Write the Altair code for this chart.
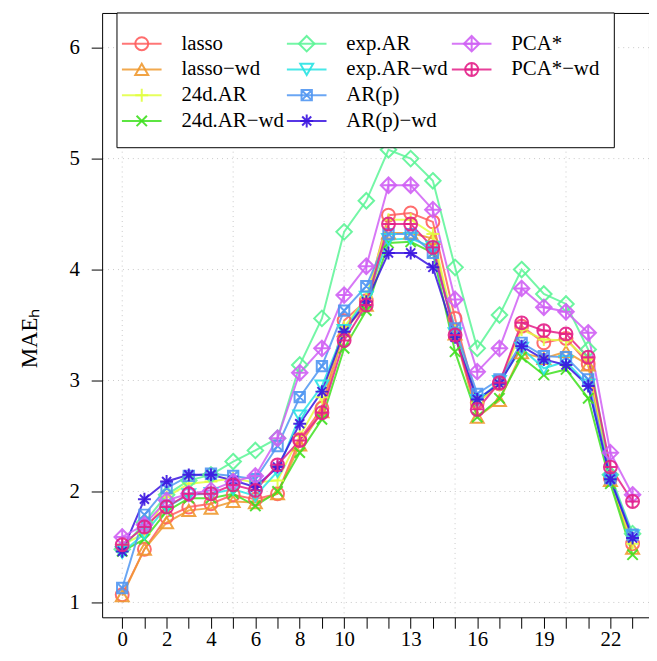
import json
import altair as alt
import pandas as pd

# ---------------- data ----------------
hours = list(range(24))
label_hours = [0, 2, 4, 6, 8, 10, 13, 16, 19, 22]
y_ticks = [1, 2, 3, 4, 5, 6]
grid_x_vals = [0, 5, 10, 15, 20]
grid_y_vals = [1, 2, 3, 4, 5, 6]

series_names = ["lasso", "lasso\u2212wd", "24d.AR", "24d.AR\u2212wd",
                "exp.AR", "exp.AR\u2212wd", "AR(p)", "AR(p)\u2212wd",
                "PCA*", "PCA*\u2212wd"]

lasso     = [1.07, 1.48, 1.77, 1.86, 1.89, 1.97, 1.93, 1.98, 2.47, 2.75, 3.54, 3.72,
             4.49, 4.51, 4.43, 3.56, 2.80, 2.97, 3.49, 3.34, 3.38, 3.15, 2.12, 1.53]
lasso_wd  = [1.06, 1.48, 1.72, 1.83, 1.85, 1.91, 1.90, 1.98, 2.42, 2.72, 3.45, 3.68,
             4.33, 4.33, 4.28, 3.42, 2.67, 2.82, 3.25, 3.20, 3.26, 3.14, 2.10, 1.49]
ar24      = [1.52, 1.62, 1.95, 2.07, 2.09, 2.12, 2.08, 2.10, 2.50, 2.85, 3.48, 3.75,
             4.45, 4.45, 4.32, 3.45, 2.80, 2.96, 3.46, 3.37, 3.36, 3.19, 2.11, 1.53]
ar24_wd   = [1.46, 1.57, 1.82, 1.94, 1.94, 1.98, 1.87, 2.00, 2.35, 2.65, 3.29, 3.63,
             4.24, 4.25, 4.15, 3.26, 2.67, 2.84, 3.21, 3.05, 3.10, 2.84, 2.07, 1.43]
exp_ar    = [1.48, 1.72, 1.97, 2.10, 2.15, 2.27, 2.37, 2.48, 3.14, 3.56, 4.34, 4.62,
             5.08, 5.00, 4.80, 4.02, 3.29, 3.59, 4.00, 3.78, 3.69, 3.28, 2.15, 1.62]
exp_ar_wd = [1.45, 1.62, 1.86, 1.97, 1.98, 2.02, 1.96, 2.18, 2.68, 2.95, 3.45, 3.75,
             4.27, 4.28, 4.20, 3.42, 2.82, 2.99, 3.29, 3.11, 3.17, 2.96, 2.10, 1.60]
arp       = [1.13, 1.79, 2.03, 2.14, 2.16, 2.14, 2.11, 2.41, 2.85, 3.13, 3.63, 3.85,
             4.32, 4.32, 4.15, 3.47, 2.88, 3.01, 3.34, 3.22, 3.21, 3.01, 2.12, 1.61]
arp_wd    = [1.46, 1.93, 2.09, 2.15, 2.15, 2.10, 2.04, 2.22, 2.61, 2.90, 3.44, 3.71,
             4.15, 4.15, 4.02, 3.39, 2.83, 2.97, 3.31, 3.19, 3.14, 2.95, 2.11, 1.58]
pca       = [1.59, 1.70, 1.92, 1.98, 2.01, 2.09, 2.14, 2.48, 3.07, 3.29, 3.77, 4.03,
             4.76, 4.76, 4.54, 3.73, 3.08, 3.29, 3.83, 3.66, 3.62, 3.43, 2.35, 1.97]
pca_wd    = [1.52, 1.68, 1.86, 1.98, 1.98, 2.06, 2.01, 2.24, 2.46, 2.71, 3.36, 3.68,
             4.41, 4.41, 4.20, 3.41, 2.74, 2.98, 3.52, 3.45, 3.42, 3.21, 2.22, 1.91]

series_values = [lasso, lasso_wd, ar24, ar24_wd, exp_ar, exp_ar_wd,
                 arp, arp_wd, pca, pca_wd]

colors = ["#FF5E5E", "#F09A30", "#E2FF40", "#40E020", "#5CF596",
          "#28E4E4", "#5096F2", "#3A14E0", "#D060F5", "#E41E88"]

shapes = [
    "circle",
    "triangle-up",
    "M-1,0L1,0M0,-1L0,1",
    "M-0.8,-0.8L0.8,0.8M-0.8,0.8L0.8,-0.8",
    "M0,-1.2L1.2,0L0,1.2L-1.2,0Z",
    "triangle-down",
    "M-0.8,-0.8L0.8,-0.8L0.8,0.8L-0.8,0.8ZM-0.8,-0.8L0.8,0.8M-0.8,0.8L0.8,-0.8",
    "M-1,0L1,0M0,-1L0,1M-0.7,-0.7L0.7,0.7M-0.7,0.7L0.7,-0.7",
    "M0,-1.2L1.2,0L0,1.2L-1.2,0ZM-1.2,0L1.2,0M0,-1.2L0,1.2",
    "M-1,0A1,1,0,1,1,1,0A1,1,0,1,1,-1,0ZM-1,0L1,0M0,-1L0,1",
]

# ---------------- tables ----------------
rows = []
for name, vals in zip(series_names, series_values):
    for h, v in zip(hours, vals):
        rows.append({"hour": h, "mae": v, "series": name})
df = pd.DataFrame(rows)

gx_df = pd.DataFrame({"hour": grid_x_vals})
gy_df = pd.DataFrame({"mae": grid_y_vals})

leg = pd.DataFrame({"series": series_names})
leg["col"] = [i // 4 for i in range(len(series_names))]
leg["row"] = [i % 4 for i in range(len(series_names))]
leg["x1"] = 20 + 166.5 * leg["col"]
leg["x2"] = leg["x1"] + 40
leg["xm"] = leg["x1"] + 20
leg["xt"] = leg["x1"] + 60
leg["ly"] = 31 + 26 * leg["row"]

FONT = "Liberation Serif"

x_scale = alt.Scale(domain=[-0.906, 23.74], nice=False, zero=False)
y_scale = alt.Scale(domain=[0.866, 6.3125], nice=False, zero=False)
color_scale = alt.Scale(domain=series_names, range=colors)
shape_scale = alt.Scale(domain=series_names, range=shapes)

label_expr = ("indexof(" + json.dumps(label_hours) +
              ", datum.value) >= 0 ? datum.label : ''")

x_axis = alt.Axis(values=hours, labelExpr=label_expr, title=None, grid=False,
                  domain=False, tickSize=11, tickColor="black", tickWidth=1,
                  labelFont=FONT, labelFontSize=21, labelColor="black",
                  labelPadding=0, labelFlush=False, labelOverlap=False)
y_axis = alt.Axis(values=y_ticks, format="d", title="MAE\u2095", grid=False,
                  domain=False, tickSize=11, tickColor="black", tickWidth=1,
                  labelFont=FONT, labelFontSize=21, labelColor="black",
                  labelPadding=12, labelFlush=False, labelOverlap=False,
                  titleFont=FONT, titleFontSize=23, titleFontWeight="normal",
                  titleColor="black", titleX=-73, titleY=328,
                  titleAlign="center", titleBaseline="middle", titleAngle=270)

X = alt.X("hour:Q", scale=x_scale, axis=x_axis)
Y = alt.Y("mae:Q", scale=y_scale, axis=y_axis)

grid_x = alt.Chart(gx_df).mark_rule(
    color="#C8C8C8", strokeDash=[1, 4], strokeWidth=1
).encode(x=X)

grid_y = alt.Chart(gy_df).mark_rule(
    color="#C8C8C8", strokeDash=[1, 4], strokeWidth=1
).encode(y=Y)

lines = alt.Chart(df).mark_line(strokeWidth=2, opacity=0.85).encode(
    x=X, y=Y,
    color=alt.Color("series:N", scale=color_scale, legend=None),
)

points = alt.Chart(df).mark_point(filled=False, size=170, strokeWidth=2,
                                  opacity=0.9).encode(
    x=X, y=Y,
    color=alt.Color("series:N", scale=color_scale, legend=None),
    shape=alt.Shape("series:N", scale=shape_scale, legend=None),
)

data_part = alt.layer(grid_x, grid_y, lines, points)

box = alt.Chart(pd.DataFrame({"a": [0]})).mark_rect(
    fill="white", stroke="black", strokeWidth=1
).encode(x=alt.value(15), x2=alt.value(517), y=alt.value(0), y2=alt.value(136))

LX = lambda f: alt.X(f + ":Q", scale=None, axis=None)
LY = alt.Y("ly:Q", scale=None, axis=None)

leg_rules = alt.Chart(leg).mark_rule(strokeWidth=2, opacity=0.85).encode(
    x=LX("x1"), x2="x2:Q", y=LY,
    color=alt.Color("series:N", scale=color_scale, legend=None),
)
leg_points = alt.Chart(leg).mark_point(filled=False, size=170, strokeWidth=2,
                                       opacity=0.9).encode(
    x=LX("xm"), y=LY,
    color=alt.Color("series:N", scale=color_scale, legend=None),
    shape=alt.Shape("series:N", scale=shape_scale, legend=None),
)
leg_text = alt.Chart(leg).mark_text(align="left", baseline="middle", font=FONT,
                                    fontSize=21, color="black").encode(
    x=LX("xt"), y=LY, text="series:N",
)

legend_part = alt.layer(box, leg_rules, leg_points, leg_text)

chart = alt.layer(data_part, legend_part).resolve_scale(
    x="independent", y="independent"
).resolve_axis(x="independent", y="independent").properties(
    width=552, height=610,
    autosize=alt.AutoSizeParams(type="none"),
    padding={"left": 95, "top": 2, "right": 0, "bottom": 33},
    background="white",
).configure_view(stroke="black", strokeWidth=1)

chart.save("out.html", embed_options={"renderer": "svg", "actions": False})
